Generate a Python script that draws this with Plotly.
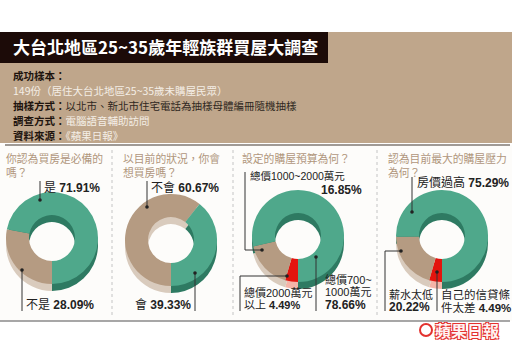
import plotly.graph_objects as go

W, H = 512, 354

# ---------------- data ----------------
title = "大台北地區25~35歲年輕族群買屋大調查"
info_labels = ["成功樣本", "", "抽樣方式", "調查方式", "資料來源"]
info_values = ["", "149份（居住大台北地區25~35歲未購屋民眾）",
               "以北市、新北市住宅電話為抽樣母體編冊隨機抽樣",
               "電腦語音輔助訪問", "《蘋果日報》"]

q_titles = [["你認為買房是必備的", "嗎？"], ["以目前的狀況，你會", "想買房嗎？"],
            ["設定的購屋預算為何？"], ["認為目前最大的購屋壓力", "為何？"]]

q1_labels = ["不是", "是"]
q1_values = [28.09, 71.91]
q2_labels = ["不會", "會"]
q2_values = [60.67, 39.33]
q3_labels = ["總價2000萬元以上", "總價1000~2000萬元", "總價700~1000萬元"]
q3_values = [4.49, 16.85, 78.66]
q4_labels = ["自己的信貸條件太差", "薪水太低", "房價過高"]
q4_values = [4.49, 20.22, 75.29]

GREEN, TAN, RED = "#4fa88b", "#b59b82", "#e3140e"
GREEN_D, TAN_D, RED_D = "#2e7a62", "#d9cbbd", "#f4b4a8"

def X(p):
    return p / W

def Y(p):
    return 1 - p / H

fig = go.Figure()

R = 46
OFF = 7
pies = [
    (q1_labels, q1_values, [TAN, GREEN], [TAN_D, GREEN_D], 52, 238),
    (q2_labels, q2_values, [TAN, GREEN], [TAN_D, GREEN_D], 171, 240),
    (q3_labels, q3_values, [RED, TAN, GREEN], [RED_D, TAN_D, GREEN_D], 298, 236),
    (q4_labels, q4_values, [RED, TAN, GREEN], [RED_D, TAN_D, GREEN_D], 442, 236),
]
for labels, values, cols, dcols, cx, cy in pies:
    for dy, cc in ((OFF, dcols), (0, cols)):
        fig.add_trace(go.Pie(
            labels=labels, values=values, hole=0.5, sort=False,
            direction="clockwise", rotation=180, textinfo="none",
            hoverinfo="skip", showlegend=False,
            marker=dict(colors=cc, line=dict(width=0)),
            domain=dict(x=[X(cx - R), X(cx + R)],
                        y=[Y(cy + dy + R), Y(cy + dy - R)]),
        ))

shapes = []
# backgrounds
shapes.append(dict(type="rect", xref="paper", yref="paper", x0=0, x1=1,
                   y0=Y(143), y1=Y(32), fillcolor="#bfa68b", line=dict(width=0), layer="below"))
shapes.append(dict(type="rect", xref="paper", yref="paper", x0=0, x1=X(328),
                   y0=Y(63), y1=Y(32), fillcolor="#1c0b08", line=dict(width=0), layer="below"))
shapes.append(dict(type="rect", xref="paper", yref="paper", x0=0, x1=1,
                   y0=Y(321), y1=Y(145), fillcolor="#fdfcfa", line=dict(width=0), layer="below"))
# separators
shapes.append(dict(type="line", xref="paper", yref="paper", x0=X(5), x1=X(510),
                   y0=Y(145), y1=Y(145), line=dict(color="#a09a95", width=2)))
shapes.append(dict(type="line", xref="paper", yref="paper", x0=X(0), x1=X(510),
                   y0=Y(321), y1=Y(321), line=dict(color="#8a8a8a", width=1.5)))
for sx in (112, 233, 377):
    shapes.append(dict(type="line", xref="paper", yref="paper", x0=X(sx), x1=X(sx),
                       y0=Y(150), y1=Y(318), line=dict(color="#c4c4c4", width=1, dash="dot")))

# leader lines (pixel polylines) and dots
leaders = [
    ([(40, 181), (40, 200)], (40, 200)),
    ([(22, 311), (22, 270)], (22, 270)),
    ([(147, 181), (147, 207)], (147, 207)),
    ([(195, 311), (195, 273)], (195, 273)),
    ([(245, 172), (245, 250), (262, 250)], (262, 250)),
    ([(240, 311), (240, 276), (287, 276)], (287, 276)),
    ([(316, 311), (316, 257)], (316, 257)),
    ([(412, 177), (412, 212)], (412, 212)),
    ([(385, 311), (385, 251), (401, 251)], (401, 251)),
    ([(437, 311), (437, 272)], (437, 272)),
]
for pts, dot in leaders:
    for (x0, y0), (x1, y1) in zip(pts[:-1], pts[1:]):
        shapes.append(dict(type="line", xref="paper", yref="paper", x0=X(x0), x1=X(x1),
                           y0=Y(y0), y1=Y(y1), line=dict(color="#333333", width=1)))
    d = 1.8
    shapes.append(dict(type="circle", xref="paper", yref="paper", x0=X(dot[0] - d), x1=X(dot[0] + d),
                       y0=Y(dot[1] + d), y1=Y(dot[1] - d), fillcolor="#222222", line=dict(width=0)))

# logo apple
shapes.append(dict(type="circle", xref="paper", yref="paper", x0=X(420), x1=X(432),
                   y0=Y(336), y1=Y(324), fillcolor="#ffffff", line=dict(color="#e3322f", width=2)))

FONT = "Liberation Sans, Noto Sans CJK TC"
CJK = "Noto Sans CJK TC"
ann = []

def txt(x, y, text, size=12, color="#222222", xanchor="left", yanchor="middle", family=FONT, **kw):
    ann.append(dict(x=X(x), y=Y(y), xref="paper", yref="paper", text=text, showarrow=False,
                    xanchor=xanchor, yanchor=yanchor, align="left", borderpad=0,
                    font=dict(size=size, color=color, family=family, **kw)))

txt(12, 47, "<b>" + title + "</b>", size=17, color="#ffffff", family=CJK)

info_y = [75, 90, 105, 120, 135]
for lab, val, yy in zip(info_labels, info_values, info_y):
    vcol = "#2e2620" if lab == "抽樣方式" else "#f4eee6"
    parts = ""
    if lab:
        parts += "<b>" + lab + "：</b>"
    if val:
        parts += "<span style='color:%s'>%s</span>" % (vcol, val)
    txt(12, yy, parts, size=10.5, color="#1e140e", family=CJK)

for qx, lines in zip((5, 122, 241, 387), q_titles):
    yc = 158 + 7 * (len(lines) - 1)
    txt(qx, yc, "<br>".join(lines), size=10.8, color="#b0967c", family=CJK)

# slice labels
txt(43, 188, q1_labels[1] + " <b>%.2f%%</b>" % q1_values[1])
txt(25, 305, q1_labels[0] + " <b>%.2f%%</b>" % q1_values[0])
txt(150, 188, q2_labels[0] + " <b>%.2f%%</b>" % q2_values[0])
txt(192, 305, q2_labels[1] + " <b>%.2f%%</b>" % q2_values[1], xanchor="right")

txt(249, 176, q3_labels[1], size=10.5)
txt(363, 190, "<b>%.2f%%</b>" % q3_values[1], xanchor="right")
txt(243, 292, "總價2000萬元", size=11)
txt(243, 305, "以上 <b>%.2f%%</b>" % q3_values[0], size=11)
txt(324, 279, "總價700~", size=11)
txt(324, 292, "1000萬元", size=11)
txt(324, 305, "<b>%.2f%%</b>" % q3_values[2])

txt(416, 183, q4_labels[2] + " <b>%.2f%%</b>" % q4_values[2])
txt(388, 294, q4_labels[1], size=11)
txt(388, 307, "<b>%.2f%%</b>" % q4_values[1])
txt(440, 294, "自己的信貸條", size=11.5)
txt(440, 307, "件太差 <b>%.2f%%</b>" % q4_values[0], size=11.5)

# logo text
txt(434, 330, "<b>蘋果日報</b>", size=16, color="#fff2f2", family=CJK,
    shadow="1px 1px 0 #e3322f, -1px -1px 0 #e3322f, 1px -1px 0 #e3322f, -1px 1px 0 #e3322f")

fig.update_layout(
    width=W, height=H, margin=dict(l=0, r=0, t=0, b=0),
    paper_bgcolor="#ffffff", plot_bgcolor="#ffffff",
    shapes=shapes, annotations=ann,
)
fig.write_html("out.html")
